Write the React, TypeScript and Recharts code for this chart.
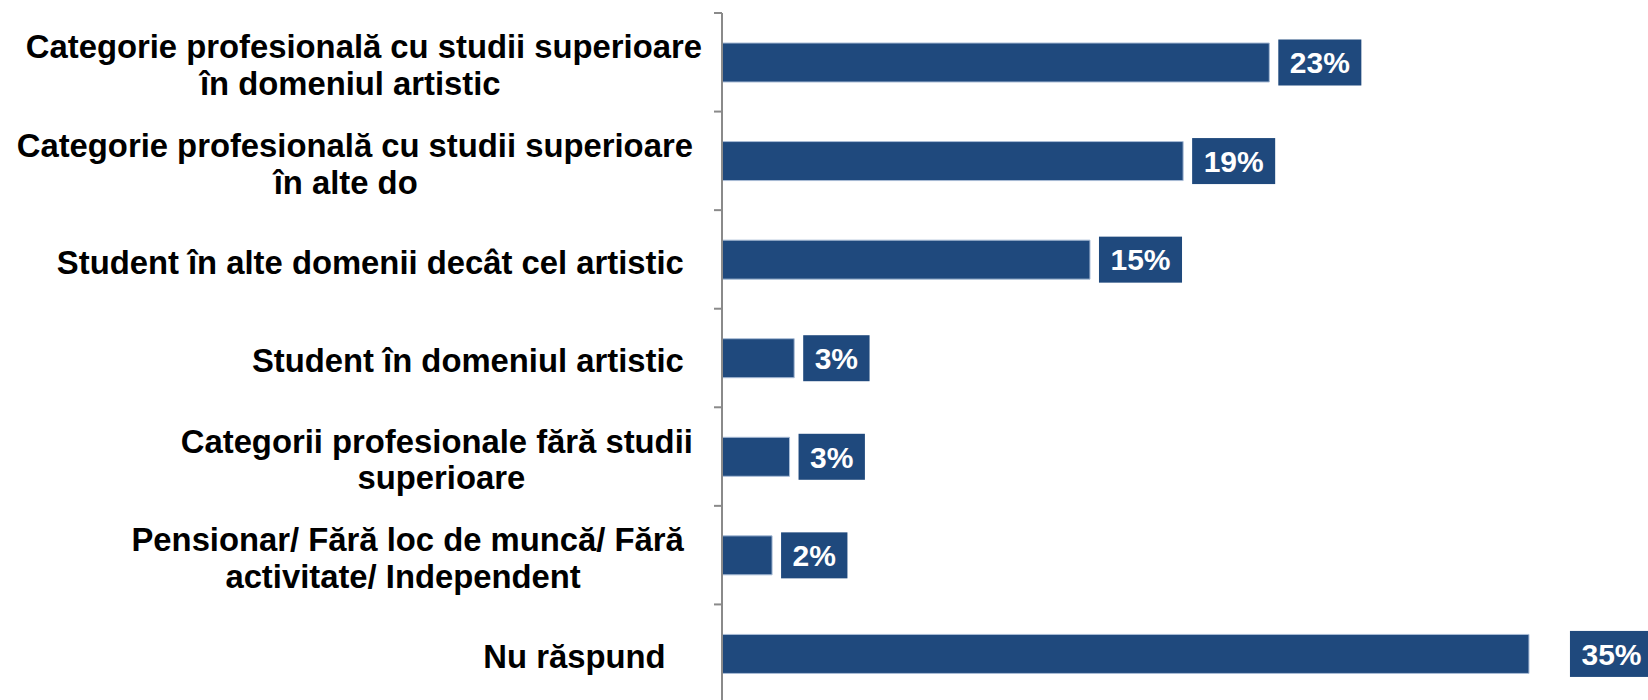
import { BarChart, Bar, XAxis, YAxis, LabelList } from 'recharts';

// Colori ripresi dal grafico originale (Excel, blu scuro "text 2").
const NAVY = '#1f497d';
const BAR_EDGE = '#a9bcd6';
const AXIS_GREY = '#8a8a8a';
const FONT = '"Liberation Sans", Arial, sans-serif';

// Categorie (una riga per "\n"; gli spazi finali vengono dall'originale).
const categories = [
  'Categorie profesională cu studii superioare\nîn domeniul artistic   ',
  'Categorie profesională cu studii superioare \nîn alte do   ',
  'Student în alte domenii decât cel artistic  ',
  'Student în domeniul artistic  ',
  'Categorii profesionale fără studii \nsuperioare',
  'Pensionar/ Fără loc de muncă/ Fără  \nactivitate/ Independent   ',
  'Nu răspund    ',
];

const shares = [23.5, 19.8, 15.8, 3.1, 2.9, 2.15, 34.65];
const shareLabels = ['23%', '19%', '15%', '3%', '3%', '2%', '35%'];

const data = categories.map((c, i) => ({ cat: c, value: shares[i] }));

const W = 1648;
const H = 704;
const MARGIN = { top: 13, right: 41, bottom: 1, left: 0 };
const AXIS_W = 722;

const LABEL_SIZE = 32.8;
const LINE_H = 36.8;
const BOX_SIZE = 30;

let ctx: CanvasRenderingContext2D | null = null;
function textWidth(s: string, font: string) {
  if (!ctx) ctx = document.createElement('canvas').getContext('2d');
  if (!ctx) return s.length * 16;
  ctx.font = font;
  return ctx.measureText(s).width;
}

function CategoryTick(props: any) {
  const { x, y, payload, index } = props;
  const half =
    payload?.offset ?? (H - MARGIN.top - MARGIN.bottom) / categories.length / 2;
  const lines = String(payload.value).split('\n');
  const font = `bold ${LABEL_SIZE}px ${FONT}`;
  const widths = lines.map((l) => textWidth(l, font));
  const maxW = Math.max(...widths);
  const right = x - 12;
  const cx = right - maxW / 2;
  const first = y - ((lines.length - 1) * LINE_H) / 2 + LABEL_SIZE * 0.38 + 2;
  return (
    <g>
      <line x1={x} x2={x + 8} y1={y - half} y2={y - half} stroke={AXIS_GREY} strokeWidth={2} />
      {index === categories.length - 1 && (
        <line x1={x} x2={x + 8} y1={y + half} y2={y + half} stroke={AXIS_GREY} strokeWidth={2} />
      )}
      {lines.map((l, i) => (
        <text
          key={i}
          x={cx - widths[i] / 2}
          y={first + i * LINE_H}
          textAnchor="start"
          fontFamily={FONT}
          fontWeight="bold"
          fontSize={LABEL_SIZE}
          fill="#000"
        >
          {l.trimEnd()}
        </text>
      ))}
    </g>
  );
}

const maxShare = Math.max(...shares);

function ValueBox(props: any) {
  const { x, y, width, height, index } = props;
  const txt = shareLabels[index];
  const w = textWidth(txt, `bold ${BOX_SIZE}px ${FONT}`) + 23;
  // l'etichetta del valore massimo è spinta contro il bordo destro, come nell'originale
  const bx = shares[index] === maxShare ? W + 5 - w : Number(x) + Number(width) + 9;
  const cy = Number(y) + Number(height) / 2;
  return (
    <g>
      <rect x={bx} y={cy - 23} width={w} height={46} fill={NAVY} />
      <text
        x={bx + w / 2}
        y={cy + BOX_SIZE * 0.36}
        textAnchor="middle"
        fontFamily={FONT}
        fontWeight="bold"
        fontSize={BOX_SIZE}
        fill="#fff"
      >
        {txt}
      </text>
    </g>
  );
}

export default function App() {
  return (
    <div style={{ position: 'absolute', left: 0, top: 0, width: W, height: 700, overflow: 'hidden', background: '#fff' }}>
      <BarChart width={W} height={H} data={data} layout="vertical" margin={MARGIN}>
        <XAxis type="number" domain={[0, 38]} hide />
        <YAxis
          type="category"
          dataKey="cat"
          width={AXIS_W}
          axisLine={{ stroke: AXIS_GREY, strokeWidth: 2 }}
          tickLine={false}
          tickSize={8}
          tickMargin={0}
          interval={0}
          tick={<CategoryTick />}
        />
        <Bar dataKey="value" fill={NAVY} stroke={BAR_EDGE} strokeWidth={1} barSize={39} isAnimationActive={false}>
          <LabelList dataKey="value" content={<ValueBox />} />
        </Bar>
      </BarChart>
    </div>
  );
}
